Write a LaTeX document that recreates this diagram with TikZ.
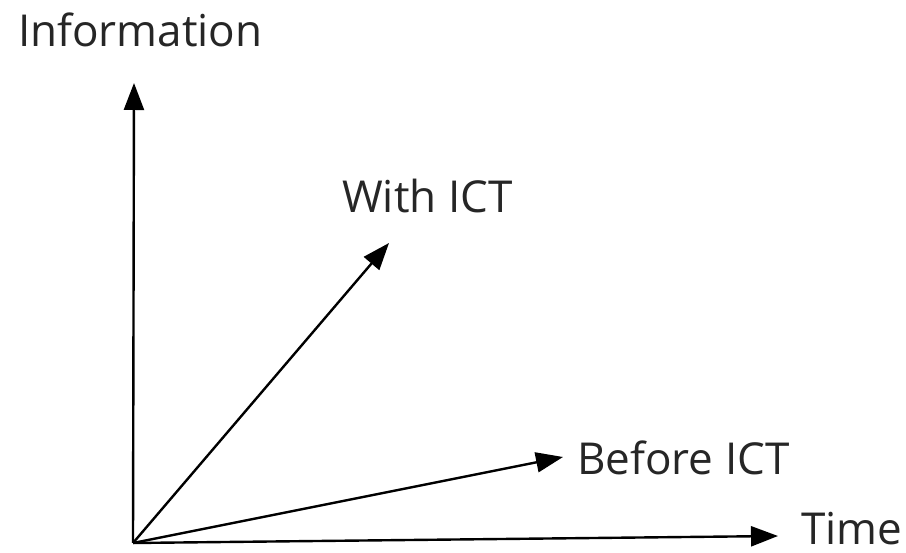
\documentclass[tikz,border=0pt]{standalone}
\usepackage{fontspec}
\setmainfont{Open Sans}
\usetikzlibrary{arrows.meta}
\begin{document}
\begin{tikzpicture}[x=1pt,y=-1pt,
  axis/.style={line width=2.4pt,-{Triangle[length=27pt,width=20pt]}},
  lbl/.style={anchor=base west,inner sep=0pt,font=\fontsize{44}{50}\selectfont,text=black!85}]
\useasboundingbox (0,0) rectangle (906,553);
\coordinate (o) at (133,543);
\coordinate (ytip) at (134,83);
\coordinate (xtip) at (778,536);
\coordinate (wtip) at (389,243);
\coordinate (btip) at (563,457);
\draw[axis] (o) -- (ytip);
\draw[axis] (o) -- (xtip);
\draw[axis] (o) -- (wtip);
\draw[axis] (o) -- (btip);
\node[lbl] (info) at (18,47) {Information};
\node[lbl] (with) at (342,213) {With ICT};
\node[lbl] (before) at (577,475) {Before ICT};
\node[lbl] (time) at (801,544) {Time};
\end{tikzpicture}
\end{document}
